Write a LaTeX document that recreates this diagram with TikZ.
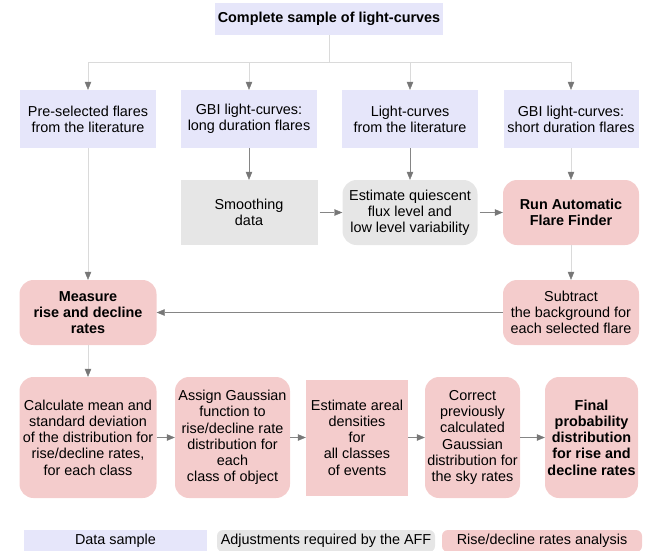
\documentclass[tikz,border=0pt]{standalone}
\usepackage{fontspec}
\setmainfont{Liberation Sans}
\usetikzlibrary{arrows.meta,positioning}

\definecolor{samplebg}{HTML}{E6E6FA}
\definecolor{adjustbg}{HTML}{E6E6E6}
\definecolor{ratesbg}{HTML}{F4CCCC}
\definecolor{linegray}{HTML}{DADADA}
\definecolor{tipgray}{HTML}{777777}

\begin{document}
\begin{tikzpicture}[x=1pt, y=-1pt,
        every node/.style={align=center, inner sep=1pt, font=\fontsize{14.4}{16.2}\selectfont},
        sample/.style={fill=samplebg, minimum width=136pt, minimum height=58pt},
        adjust/.style={fill=adjustbg, minimum width=137pt, minimum height=65pt},
        rates/.style={fill=ratesbg, rounded corners=14pt, minimum width=137pt, minimum height=65pt},
        key/.style={minimum height=22pt},
        heavy/.style={font=\fontsize{14.4}{16.2}\selectfont\bfseries},
        link/.style={draw=linegray, -{Triangle[length=8pt, width=6.5pt, color=tipgray]}},
        flow/.style={draw=tipgray!90, -{Triangle[length=8pt, width=6.5pt, color=tipgray]}}
    ]
    \useasboundingbox (0,0) rectangle (646,550);

    % data samples
    \node[sample, heavy, minimum width=228pt, minimum height=32pt] (allcurves) at (329,19) {Complete sample of light-curves};
    \node[sample] (preselected) at (88,119) {Pre-selected flares\\from the literature};
    \node[sample] (gbilong) at (249,119) {GBI light-curves:\\long duration flares};
    \node[sample] (litcurves) at (410,119) {Light-curves\\from the literature};
    \node[sample, minimum width=135pt] (gbishort) at (571,119) {GBI light-curves:\\short duration flares};

    % AFF steps
    \node[adjust] (smoothing) at (249,212.5) {Smoothing\\data};
    \node[adjust, rounded corners=14pt, minimum width=135pt] (quiescent) at (410,212.5) {Estimate quiescent\\flux level and\\low level variability};
    \node[rates, heavy, minimum width=136pt] (aff) at (571,212.5) {Run Automatic\\Flare Finder};
    \node[rates, heavy] (measure) at (88,312.5) {Measure\\rise and decline\\rates};
    \node[rates, minimum width=136pt] (subtract) at (571,312.5) {Subtract\\the background for\\each selected flare};

    % rates analysis
    \node[rates, minimum height=121pt] (meanstd) at (88,437.5) {Calculate mean and\\standard deviation\\of the distribution for\\rise/decline rates,\\for each class};
    \node[rates, minimum width=115pt, minimum height=121pt] (gaussfit) at (232.5,437.5) {Assign Gaussian\\function to\\rise/decline rate\\distribution for\\each\\class of object};
    \node[rates, rounded corners=0pt, minimum width=102pt, minimum height=116pt] (areal) at (357,437.5) {Estimate areal\\densities\\for\\all classes\\of events};
    \node[rates, minimum width=95pt, minimum height=121pt] (correct) at (472.5,437.5) {Correct\\previously\\calculated\\Gaussian\\distribution for\\the sky rates};
    \node[rates, heavy, minimum width=93pt, minimum height=121pt] (final) at (591.5,437.5) {Final\\probability\\distribution\\for rise and\\decline rates};

    % legend
    \node[sample, key, minimum width=183pt] (keysample) at (115.5,541) {Data sample};
    \node[adjust, key, rounded corners=6pt, minimum width=218pt] (keyadjust) at (326,541) {Adjustments required by the AFF};
    \node[rates, key, rounded corners=6pt, minimum width=200pt] (keyrates) at (542,541) {Rise/decline rates analysis};

    % connectors
    \draw[linegray] (allcurves.south) -- (329,62) coordinate (split);
    \draw[link] (split) -| (preselected.north);
    \draw[link] (split) -| (gbilong.north);
    \draw[link] (split) -| (litcurves.north);
    \draw[link] (split) -| (gbishort.north);

    \draw[flow] (gbilong) -- (smoothing);
    \draw[flow] (litcurves) -- (quiescent);
    \draw[link] (gbishort) -- (aff);
    \draw[flow] (smoothing.east) ++(2,0) -- (quiescent.west);
    \draw[flow] (quiescent.east) ++(2,0) -- (aff.west);
    \draw[link] (aff) -- (subtract);
    \draw[flow] (subtract) -- (measure);
    \draw[link] (preselected) -- (measure);
    \draw[link] (measure) -- (meanstd);

    \draw[flow] (meanstd) -- (gaussfit);
    \draw[flow] (gaussfit) -- (areal);
    \draw[flow] (areal) -- (correct);
    \draw[flow] (correct) -- (final);
\end{tikzpicture}
\end{document}
